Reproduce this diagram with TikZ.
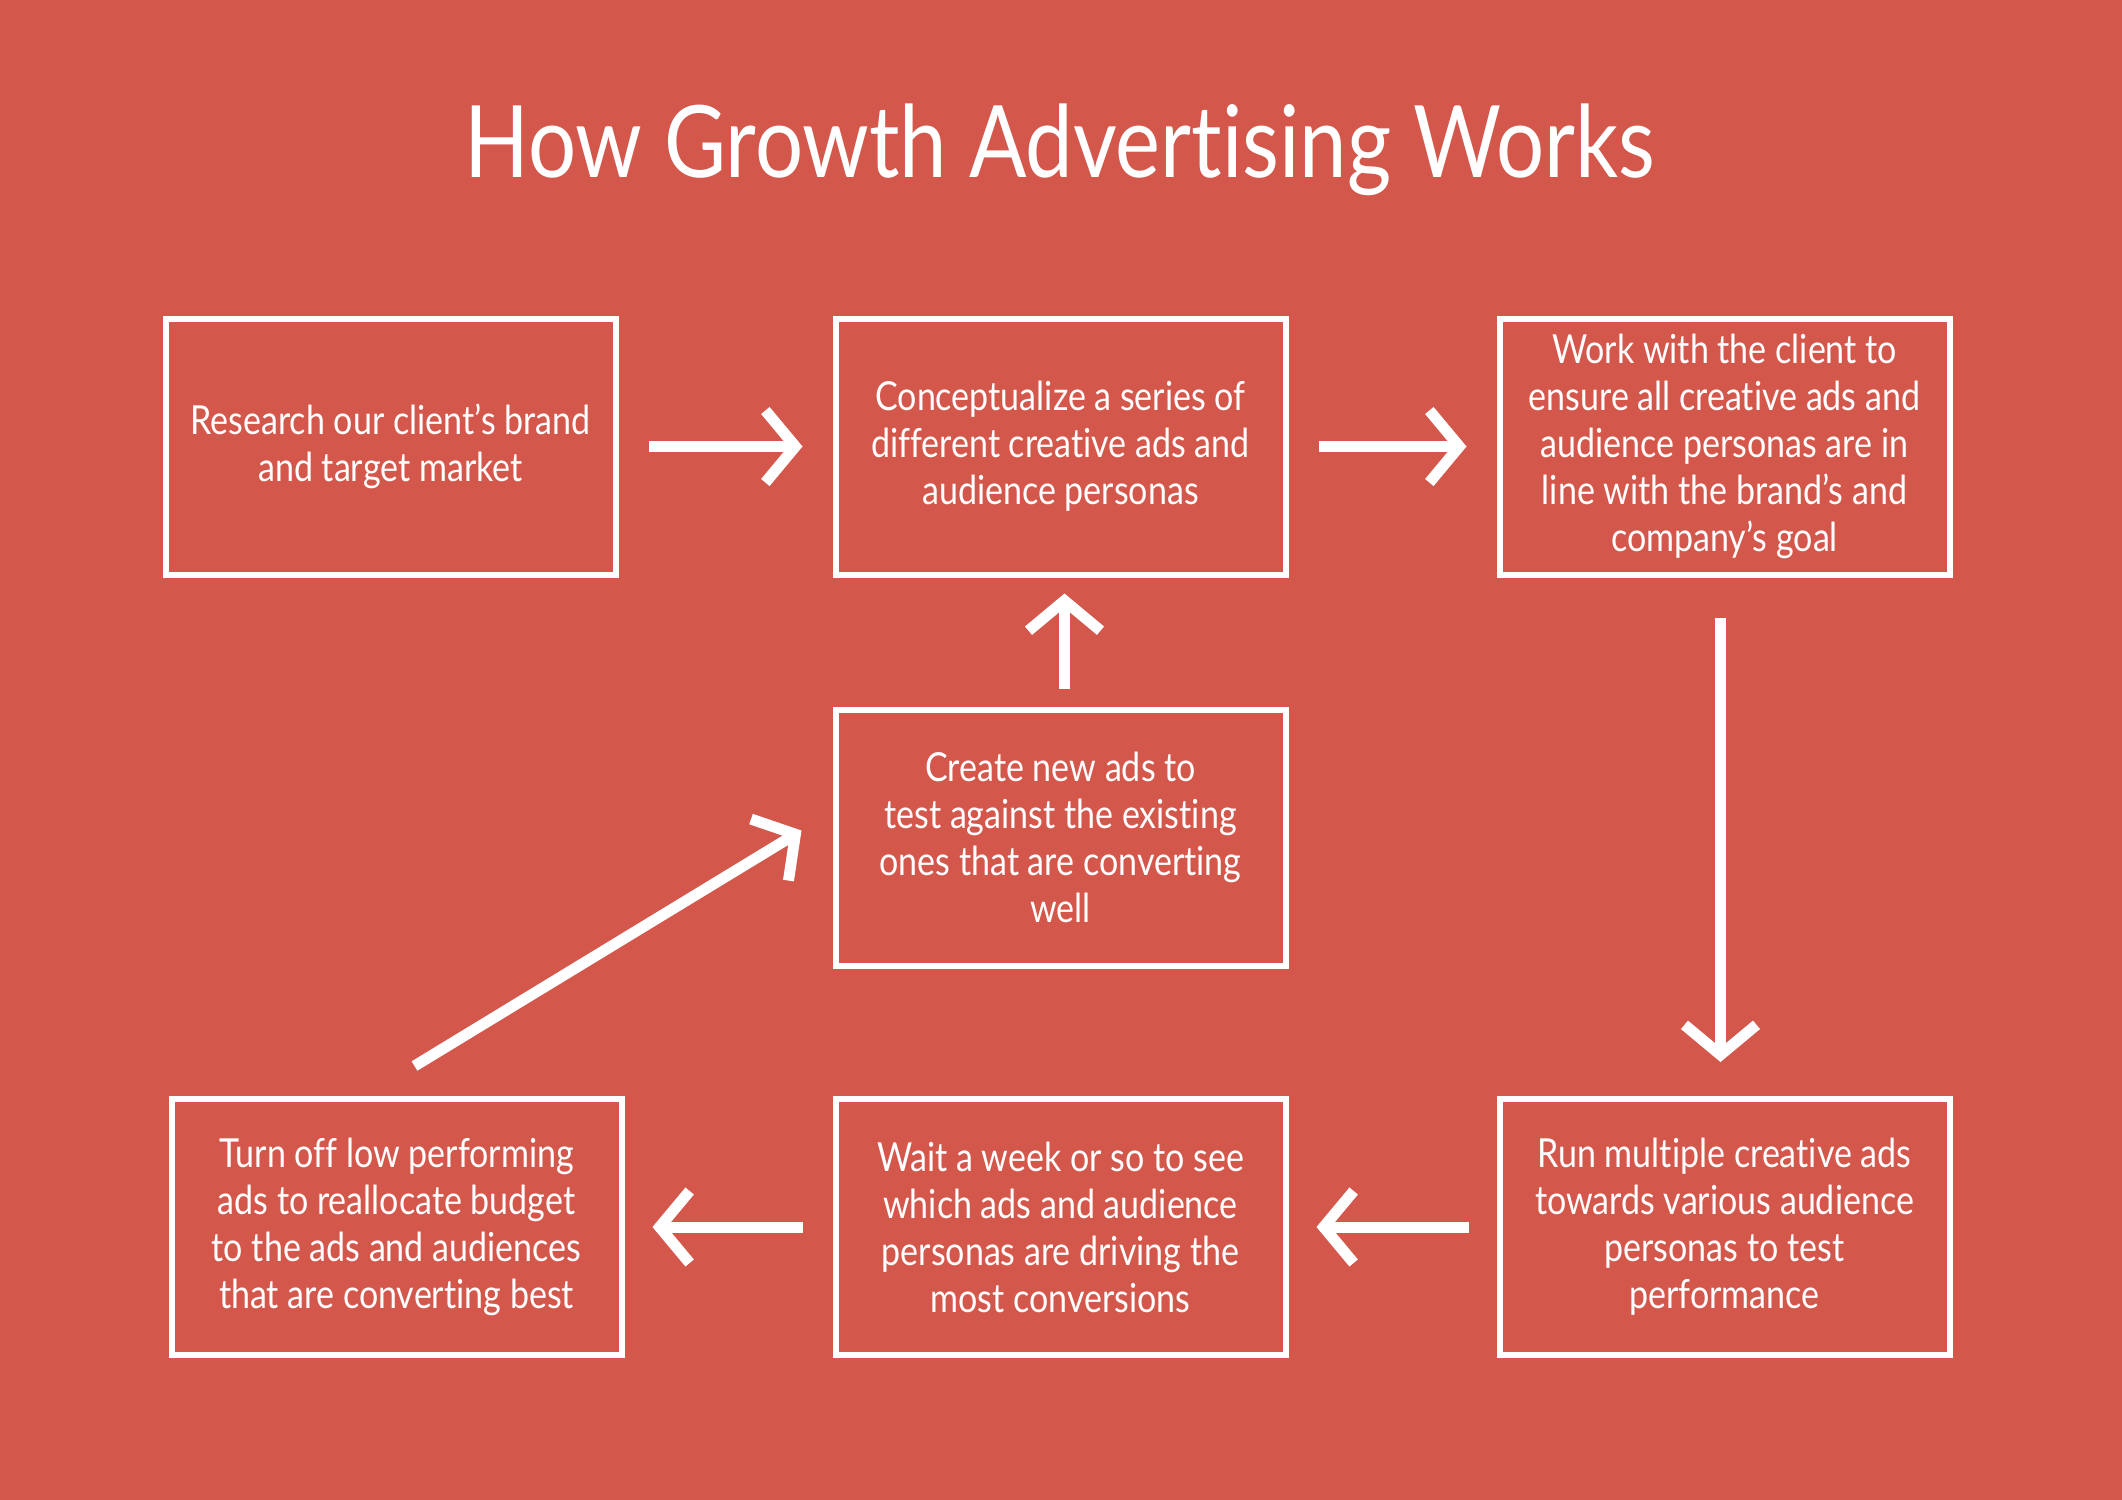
\documentclass[tikz,border=0pt]{standalone}
\usepackage{fontspec}
\setmainfont{Lato}[FakeStretch=0.85,Ligatures=NoCommon]
\usetikzlibrary{arrows.meta,calc}
\definecolor{bg}{HTML}{D4574C}
\begin{document}
\begin{tikzpicture}[x=0.5pt,y=-0.5pt,
  box/.style={draw=white,line width=3pt,minimum width=225pt,minimum height=128pt,inner sep=0pt,
    align=center,text=white,font=\fontsize{20}{23.5}\selectfont},
  arr/.style={draw=white,line width=5.5pt,-{Straight Barb[length=15pt,width=36pt]}}]
\fill[bg] (0,0) rectangle (2122,1500);
\useasboundingbox (0,0) rectangle (2122,1500);
\node[text=white,font=\fontsize{50}{60}\selectfont] (title) at (1060,150) {How Growth Advertising Works};
\node[box] (b1) at (390.5,446.5) {Research our client’s brand\\and target market};
\node[box] (b2) at (1060.5,446.5) {Conceptualize a series of\\different creative ads and\\audience personas};
\node[box] (b3) at (1724.5,446.5) {Work with the client to\\ensure all creative ads and\\audience personas are in\\line with the brand’s and\\company’s goal};
\node[box] (b4) at (1060.5,837.5) {Create new ads to\\test against the existing\\ones that are converting\\well};
\node[box] (b5) at (396.5,1227) {Turn off low performing\\ads to reallocate budget\\to the ads and audiences\\that are converting best};
\node[box] (b6) at (1060.5,1227) {Wait a week or so to see\\which ads and audience\\personas are driving the\\most conversions};
\node[box] (b7) at (1724.5,1227) {Run multiple creative ads\\towards various audience\\personas to test\\performance};
\draw[arr,shorten <=15pt,shorten >=15pt] (b1.east) -- (b2.west);
\draw[arr,shorten <=15pt,shorten >=15pt] (b2.east) -- (b3.west);
\draw[arr,shorten <=20pt,shorten >=17pt] ($(b3.south)+(-4,0)$) -- ($(b7.north)+(-4,0)$);
\draw[arr,shorten <=14pt,shorten >=14pt] (b7.west) -- (b6.east);
\draw[arr,shorten <=15pt,shorten >=14pt] (b6.west) -- (b5.east);
\draw[arr,shorten <=9pt,shorten >=8pt] ($(b4.north)+(4,0)$) -- ($(b2.south)+(4,0)$);
\coordinate (d1) at ($(b5.north)+(18,-30)$);
\coordinate (d2) at ($(b4.west)+(-31,-7)$);
\draw[arr] (d1) -- (d2);
\end{tikzpicture}
\end{document}
